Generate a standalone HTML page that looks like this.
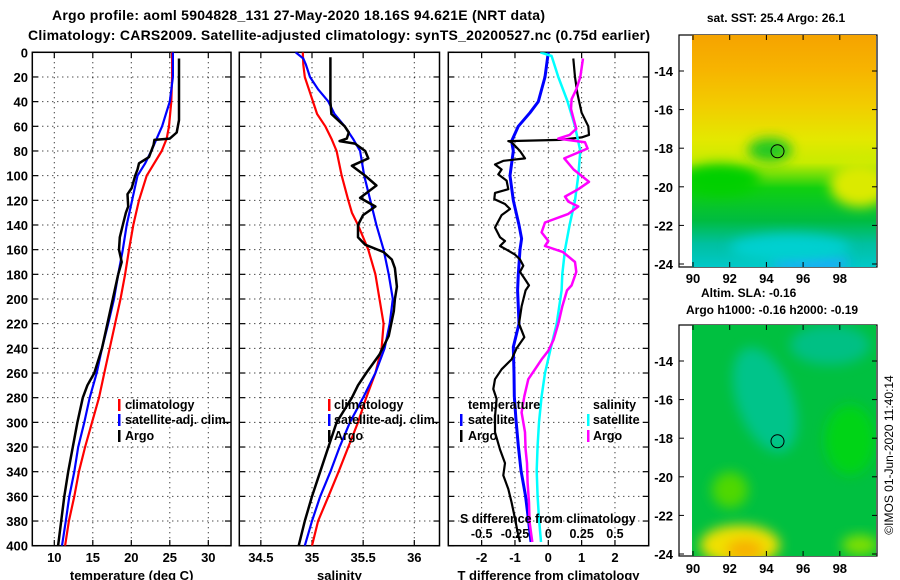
<!DOCTYPE html>
<html><head><meta charset="utf-8"><style>
html,body{margin:0;padding:0;background:#fff;}
svg{display:block;font-family:"Liberation Sans",Arial,sans-serif;font-weight:bold;}
</style></head><body>
<svg id="c" width="900" height="580" viewBox="0 0 900 580" xmlns="http://www.w3.org/2000/svg">
<defs>
<linearGradient id="sstg" x1="0" y1="0" x2="0" y2="1">
<stop offset="0" stop-color="#f5a300"/><stop offset="0.15" stop-color="#f7b400"/><stop offset="0.3" stop-color="#f2cc00"/>
<stop offset="0.45" stop-color="#e4e800"/><stop offset="0.55" stop-color="#c8ec00"/><stop offset="0.66" stop-color="#10d010"/>
<stop offset="0.8" stop-color="#00bc40"/><stop offset="0.9" stop-color="#00c0a0"/><stop offset="1" stop-color="#00c8c8"/></linearGradient>
<filter id="bl" x="-50%" y="-50%" width="200%" height="200%"><feGaussianBlur stdDeviation="6"/></filter>
<clipPath id="m1c"><rect x="692" y="35" width="184" height="232"/></clipPath>
<clipPath id="m2c"><rect x="692" y="325" width="184" height="231"/></clipPath>
<clipPath id="p1c"><rect x="32.3" y="52.3" width="198.7" height="493.4"/></clipPath>
<clipPath id="p2c"><rect x="239.3" y="52.3" width="200.2" height="493.4"/></clipPath>
<clipPath id="p3c"><rect x="448.3" y="52.3" width="200.4" height="493.4"/></clipPath>
</defs>
<text x="52" y="20" font-size="14" textLength="493">Argo profile: aoml 5904828_131 27-May-2020 18.16S 94.621E (NRT data)</text>
<text x="28" y="40" font-size="14" textLength="622">Climatology: CARS2009. Satellite-adjusted climatology: synTS_20200527.nc (0.75d earlier)</text>

<g id="maps">
<g>
<text x="776" y="22" font-size="12" text-anchor="middle">sat. SST: 25.4 Argo: 26.1</text>
<rect x="679" y="35" width="198" height="232" fill="#fff" stroke="#000" stroke-width="1.2"/>
<g clip-path="url(#m1c)">
<rect x="692" y="35" width="184" height="232" fill="url(#sstg)"/>
<ellipse cx="720" cy="180" rx="40" ry="16" fill="#00d000" filter="url(#bl)"/>
<ellipse cx="770" cy="150" rx="22" ry="12" fill="#20c820" filter="url(#bl)"/>
<ellipse cx="860" cy="185" rx="30" ry="22" fill="#dbea00" filter="url(#bl)"/>
<ellipse cx="810" cy="262" rx="38" ry="10" fill="#20a8ff" filter="url(#bl)"/>
<ellipse cx="790" cy="248" rx="60" ry="14" fill="#00d0d0" filter="url(#bl)"/>
</g>
<circle cx="777.5" cy="151.3" r="6.5" fill="none" stroke="#000" stroke-width="1"/>
</g>
<g>
<text x="701" y="297" font-size="12">Altim. SLA: -0.16</text>
<text x="686" y="314" font-size="12">Argo h1000: -0.16 h2000: -0.19</text>
<rect x="679" y="325" width="198" height="231" fill="#fff" stroke="#000" stroke-width="1.2"/>
<g clip-path="url(#m2c)">
<rect x="692" y="325" width="184" height="231" fill="#00c040"/>
<ellipse cx="765" cy="400" rx="28" ry="55" fill="#00c48a" filter="url(#bl)" transform="rotate(-20 765 400)"/>
<ellipse cx="830" cy="345" rx="40" ry="20" fill="#00c084" filter="url(#bl)"/>
<ellipse cx="850" cy="440" rx="25" ry="35" fill="#00d418" filter="url(#bl)"/>
<ellipse cx="740" cy="545" rx="40" ry="20" fill="#f0e000" filter="url(#bl)"/>
<ellipse cx="745" cy="550" rx="18" ry="10" fill="#f8b000" filter="url(#bl)"/>
<ellipse cx="730" cy="490" rx="18" ry="18" fill="#50d800" filter="url(#bl)"/>
<ellipse cx="860" cy="545" rx="18" ry="10" fill="#80e000" filter="url(#bl)"/>
</g>
<circle cx="777.5" cy="441.3" r="6.5" fill="none" stroke="#000" stroke-width="1"/>
</g>
<text transform="translate(893,455) rotate(-90)" font-size="12" font-weight="normal" text-anchor="middle">©IMOS 01-Jun-2020 11:40:14</text>
</g>
</svg>
<script>
// ---- data ----
const tDepth = [0,20,40,60,70,80,100,120,140,160,180,200,220,240,260,280,300,320,340,360,380,400];
const tClim = [25.3,25.3,25.2,24.9,24.6,23.95,22.0,21.0,20.26,19.7,19.2,18.6,17.9,17.2,16.5,15.8,14.9,14.0,13.2,12.6,11.9,11.4];
const tSatDepth = [0,20,40,50,60,70,80,90,100,120,140,160,180,200,220,240,260,280,300,320,340,360,380,400];
const tSat = [25.4,25.4,25.0,24.5,24.0,23.3,22.6,21.8,20.8,20.1,19.4,18.9,18.3,17.75,17.0,16.2,15.5,14.6,13.9,13.1,12.6,11.95,11.5,11.0];
const argoDepth = [5,55,65,70,71,75,85,90,95,100,110,115,125,130,140,150,160,170,180,200,220,240,260,270,280,300,320,340,360,380,400];
const argoT = [26.2,26.2,25.9,25.0,23.0,22.9,22.3,21.0,20.8,20.5,20.05,19.5,19.6,19.3,18.9,18.5,18.4,18.75,18.3,17.6,16.9,16.2,15.2,14.3,13.7,13.0,12.4,11.8,11.3,10.9,10.5];
const sDepth = [0,10,20,30,40,50,60,70,80,100,120,130,140,160,180,200,220,240,260,280,300,320,340,360,380,400];
const sClim = [34.91,34.915,34.93,34.97,35.01,35.05,35.13,35.19,35.24,35.29,35.355,35.39,35.45,35.55,35.62,35.66,35.70,35.68,35.62,35.53,35.45,35.355,35.26,35.16,35.06,35.0];
const sSatDepth = [0,5,10,20,30,40,50,60,70,80,100,120,140,160,180,200,220,240,260,280,300,320,340,360,380,400];
const sSat = [34.84,34.915,34.94,34.98,35.06,35.16,35.22,35.32,35.40,35.47,35.51,35.57,35.63,35.70,35.75,35.79,35.76,35.71,35.62,35.50,35.37,35.27,35.18,35.08,35.0,34.93];
const argoSDepth = [4,40,50,60,65,70,72,74,80,86,92,100,108,118,125,132,140,150,156,162,168,175,190,200,210,230,245,260,270,280,300,320,340,360,380,400];
const argoS = [35.18,35.18,35.19,35.32,35.36,35.34,35.27,35.42,35.52,35.55,35.39,35.52,35.63,35.47,35.62,35.50,35.45,35.45,35.52,35.70,35.78,35.81,35.83,35.81,35.80,35.75,35.66,35.53,35.45,35.39,35.24,35.16,35.08,35.0,34.93,34.87];
const dSatTDepth = [0,20,40,49,60,72,80,100,120,140,151,160,180,193,220,239,260,279,298,319,339,360,378,397];
const dSatT = [0.0,-0.1,-0.3,-0.55,-0.9,-1.1,-1.05,-1.15,-1.05,-0.88,-0.8,-0.85,-0.9,-0.92,-0.88,-1.05,-1.03,-1.02,-0.97,-0.9,-0.82,-0.68,-0.6,-0.52];
const dArgoTDepth = [5,20,33,49,60,67,69,71,72,73,80,86,88,91,95,99,104,111,114,119,123,127,132,142,150,153,157,160,164,168,173,178,184,189,193,206,220,231,240,249,257,265,273,281,295,308,322,333,343,354,365,378,389,397];
const dArgoT = [0.75,0.8,0.87,1.0,1.2,1.22,1.0,0.35,-1.2,-1.1,-0.85,-0.7,-1.34,-1.6,-1.4,-1.5,-1.25,-1.2,-1.6,-1.62,-1.3,-1.15,-1.4,-1.6,-1.45,-1.3,-1.45,-1.25,-1.0,-0.85,-0.75,-0.85,-0.7,-0.58,-0.68,-0.8,-0.88,-0.72,-0.95,-1.1,-1.4,-1.6,-1.65,-1.55,-1.6,-1.6,-1.45,-1.3,-1.35,-1.2,-1.1,-1.0,-0.92,-0.85];
const dSatSDepth = [0,3,20,40,60,80,100,120,140,160,180,193,220,239,260,279,300,319,339,360,378,397];
const dSatS = [-0.06,0.025,0.075,0.145,0.2,0.24,0.225,0.2,0.16,0.125,0.105,0.1,0.063,0.02,-0.025,-0.05,-0.07,-0.08,-0.087,-0.08,-0.07,-0.055];
const dArgoSDepth = [5,20,30,38,46,54,62,67,70,73,78,86,95,105,111,117,121,125,131,138,146,153,157,162,170,178,189,193,206,220,233,242,249,257,265,279,292,308,322,333,349,365,381,397];
const dArgoS = [0.26,0.24,0.21,0.175,0.17,0.19,0.21,0.16,0.075,0.275,0.295,0.12,0.19,0.305,0.225,0.125,0.15,0.225,0.15,-0.025,-0.05,0.0,-0.025,0.11,0.2,0.21,0.175,0.14,0.105,0.075,0.04,0.0,-0.05,-0.1,-0.15,-0.18,-0.2,-0.175,-0.17,-0.16,-0.155,-0.145,-0.14,-0.12];
const depthTicks = [0,20,40,60,80,100,120,140,160,180,200,220,240,260,280,300,320,340,360,380,400];
const tTicks = [10,15,20,25,30];
const sTicks = [34.5,35,35.5,36];
const dtTicks = [-2,-1,0,1,2];
const dsTicks = ["-0.5","-0.25","0","0.25","0.5"];
const latTicks = [-14,-16,-18,-20,-22,-24];
const lonTicks = [90,92,94,96,98];

// ---- scales ----
const NS='http://www.w3.org/2000/svg';
const svg=document.getElementById('c');
const yD=d=>52.3+d*1.2335;
const xT=t=>54.3+(t-10)*7.7;
const xS=s=>312+(s-35)*102.3;
const xDT=t=>548.3+t*33.33;
const xDS=s=>548.3+s*133.3;
const latY1=l=>71+(-14-l)*19.3;
const latY2=l=>361+(-14-l)*19.3;
const lonX=l=>693+(l-90)*18.35;
function mk(tag,attrs,parent){const e=document.createElementNS(NS,tag);for(const k in attrs)e.setAttribute(k,attrs[k]);(parent||svg).appendChild(e);return e;}
function txt(x,y,s,size,anchor,parent){const e=mk('text',{x:x,y:y,'font-size':size,'text-anchor':anchor||'start'},parent);e.textContent=s;return e;}

function panel(x0,x1,name,xs,ticks,tickLabels,clip,lbl){
  const g=mk('g',{});
  
  
  depthTicks.forEach(d=>{const y=yD(d);
    if(d>0&&d<400) mk('line',{x1:x0,x2:x1,y1:y,y2:y,stroke:'#000','stroke-width':1,'stroke-dasharray':'1 4'},g);
    mk('line',{x1:x0,x2:x0+6,y1:y,y2:y,stroke:'#000','stroke-width':1.2},g);
    mk('line',{x1:x1-6,x2:x1,y1:y,y2:y,stroke:'#000','stroke-width':1.2},g);
  });
  ticks.forEach((t,i)=>{const x=xs(t);
    mk('line',{x1:x,x2:x,y1:52.3,y2:545.7,stroke:'#000','stroke-width':1,'stroke-dasharray':'1 4'},g);
    mk('line',{x1:x,x2:x,y1:52.3,y2:58,stroke:'#000','stroke-width':1.2},g);
    mk('line',{x1:x,x2:x,y1:540,y2:545.7,stroke:'#000','stroke-width':1.2},g);
    const lab=txt(x,562,tickLabels[i],13,'middle',g);
    
    
  });
  mk('rect',{x:x0,y:52.3,width:x1-x0,height:493.4,fill:'none',stroke:'#000','stroke-width':1.5},g);
  const t=txt((x0+x1)/2,580,lbl,13,'middle',g);
  
  
  return g;
}
function line(xs,xa,da,color,w,name,clip){
  const p=mk('polyline',{points:xa.map((v,i)=>xs(v).toFixed(1)+','+yD(da[i]).toFixed(1)).join(' '),fill:'none',stroke:color,'stroke-width':w,'stroke-linejoin':'round','clip-path':'url(#'+clip+')'});
  
  
}
function legend(bx,tx,y,color,label,name){
  const g=mk('g',{});
  
  
  if(color) mk('rect',{x:bx,y:y-10,width:2.5,height:12,fill:color},g);
  txt(tx,y,label,12.5,'start',g);
}
depthTicks.forEach(d=>{const e=txt(28,yD(d)+5,String(d),13,'end');
  
  });

panel(32.3,231,'temperature-panel',xT,tTicks,tTicks.map(String),'p1c','temperature (deg C)');
line(xT,tClim,tDepth,'#f00',2.2,'temperature-climatology-line','p1c');
line(xT,tSat,tSatDepth,'#00f',2.2,'temperature-satellite-line','p1c');
line(xT,argoT,argoDepth,'#000',2.5,'temperature-argo-line','p1c');
legend(118,125,409,'#f00','climatology','legend-climatology');
legend(118,125,424,'#00f','satellite-adj. clim.','legend-satellite');
legend(118,125,440,'#000','Argo','legend-argo');

panel(239.3,439.5,'salinity-panel',xS,sTicks,sTicks.map(String),'p2c','salinity');
line(xS,sClim,sDepth,'#f00',2.2,'salinity-climatology-line','p2c');
line(xS,sSat,sSatDepth,'#00f',2.2,'salinity-satellite-line','p2c');
line(xS,argoS,argoSDepth,'#000',2.5,'salinity-argo-line','p2c');
legend(328,334,409,'#f00','climatology','legend-climatology');
legend(328,334,424,'#00f','satellite-adj. clim.','legend-satellite');
legend(328,334,440,'#000','Argo','legend-argo');

panel(448.3,648.7,'difference-panel',xDT,dtTicks,dtTicks.map(String),'p3c','T difference from climatology');
line(xDT,dSatT,dSatTDepth,'#00f',3,'t-diff-satellite-line','p3c');
line(xDT,dArgoT,dArgoTDepth,'#000',2.2,'t-diff-argo-line','p3c');
line(xDS,dSatS,dSatSDepth,'#0ff',2.5,'s-diff-satellite-line','p3c');
line(xDS,dArgoS,dArgoSDepth,'#f0f',2.5,'s-diff-argo-line','p3c');
legend(0,468,409,null,'temperature','legend-temperature-header');
legend(460,468,424,'#00f','satellite','legend-t-satellite');
legend(460,468,440,'#000','Argo','legend-t-argo');
legend(0,593,409,null,'salinity','legend-salinity-header');
legend(587,593,424,'#0ff','satellite','legend-s-satellite');
legend(587,593,440,'#f0f','Argo','legend-s-argo');
const sdt=txt(460,523,'S difference from climatology',12.5,'start');


dsTicks.forEach(s=>{const e=txt(xDS(parseFloat(s)),538,s,12.5,'middle');
  
  });

[[latY1,267,283],[latY2,556,573]].forEach(([fy,bottom,ly])=>{
  latTicks.forEach(l=>{const y=fy(l);
    mk('line',{x1:679,x2:684,y1:y,y2:y,stroke:'#000'});
    mk('line',{x1:872,x2:877,y1:y,y2:y,stroke:'#000'});
    const e=txt(673,y+5,String(l),13,'end');
    
    });
  lonTicks.forEach(l=>{const x=lonX(l);
    mk('line',{x1:x,x2:x,y1:bottom-5,y2:bottom,stroke:'#000'});
    mk('line',{x1:x,x2:x,y1:(bottom===267?35:325),y2:(bottom===267?40:330),stroke:'#000'});
    const e=txt(x,ly,String(l),13,'middle');
    
    });
});
</script>
</body></html>
